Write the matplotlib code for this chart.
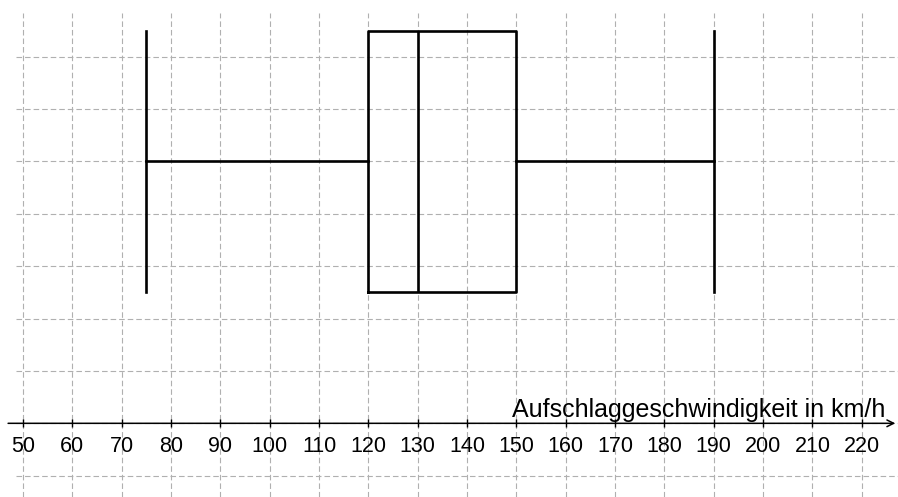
import matplotlib.pyplot as plt

# Werte des Boxplots (Aufschlaggeschwindigkeit in km/h)
minimum = 75
q1 = 120
median = 130
q3 = 150
maximum = 190

x_ticks = list(range(50, 230, 10))
y_grid = list(range(-1, 8))
label = 'Aufschlaggeschwindigkeit in km/h'

plt.rcParams['font.family'] = ['Liberation Sans', 'DejaVu Sans']

fig = plt.figure(figsize=(8.98, 4.97), dpi=100)
ax = fig.add_axes([0, 0, 1, 1])
ax.set_xlim(45.34, 227.35)
ax.set_ylim(-1.407, 8.083)

# Gitter (gestrichelt, grau)
grid_style = dict(color='#b0b0b0', linewidth=0.8, linestyle=(0, (5, 2.7)), zorder=0)
ax.vlines(x_ticks, -1.407, 7.83, **grid_style)
ax.hlines(y_grid, 48.6, 227.35, **grid_style)

# Boxplot
stats = [{'whislo': minimum, 'q1': q1, 'med': median, 'q3': q3,
          'whishi': maximum, 'fliers': []}]
line = dict(color='black', linewidth=1.9)
ax.bxp(stats, positions=[5], widths=5, capwidths=5, orientation='horizontal',
       showfliers=False, boxprops=line, whiskerprops=line, capprops=line,
       medianprops=line)
ax.set_xlim(45.34, 227.35)
ax.set_ylim(-1.407, 8.083)

# x-Achse mit Pfeil
for s in ['left', 'right', 'top', 'bottom']:
    ax.spines[s].set_visible(False)
ax.annotate('', xy=(0.997, 0), xytext=(0.009, 0),
            xycoords=('axes fraction', 'data'), textcoords=('axes fraction', 'data'),
            arrowprops=dict(arrowstyle='->', color='black', linewidth=1.1,
                            shrinkA=0, shrinkB=0, mutation_scale=12))
ax.set_xticks(x_ticks)
ax.set_xticklabels([str(t) for t in x_ticks])
ax.set_yticks([])
ax.xaxis.set_ticks_position('bottom')
ax.spines['bottom'].set_position(('data', 0))
ax.tick_params(axis='x', direction='inout', length=6, width=1, pad=6,
               labelsize=15.5, colors='black')

ax.text(224.7, 0.126, label, ha='right', va='baseline', fontsize=18)

fig.savefig('out.png', dpi=100)
